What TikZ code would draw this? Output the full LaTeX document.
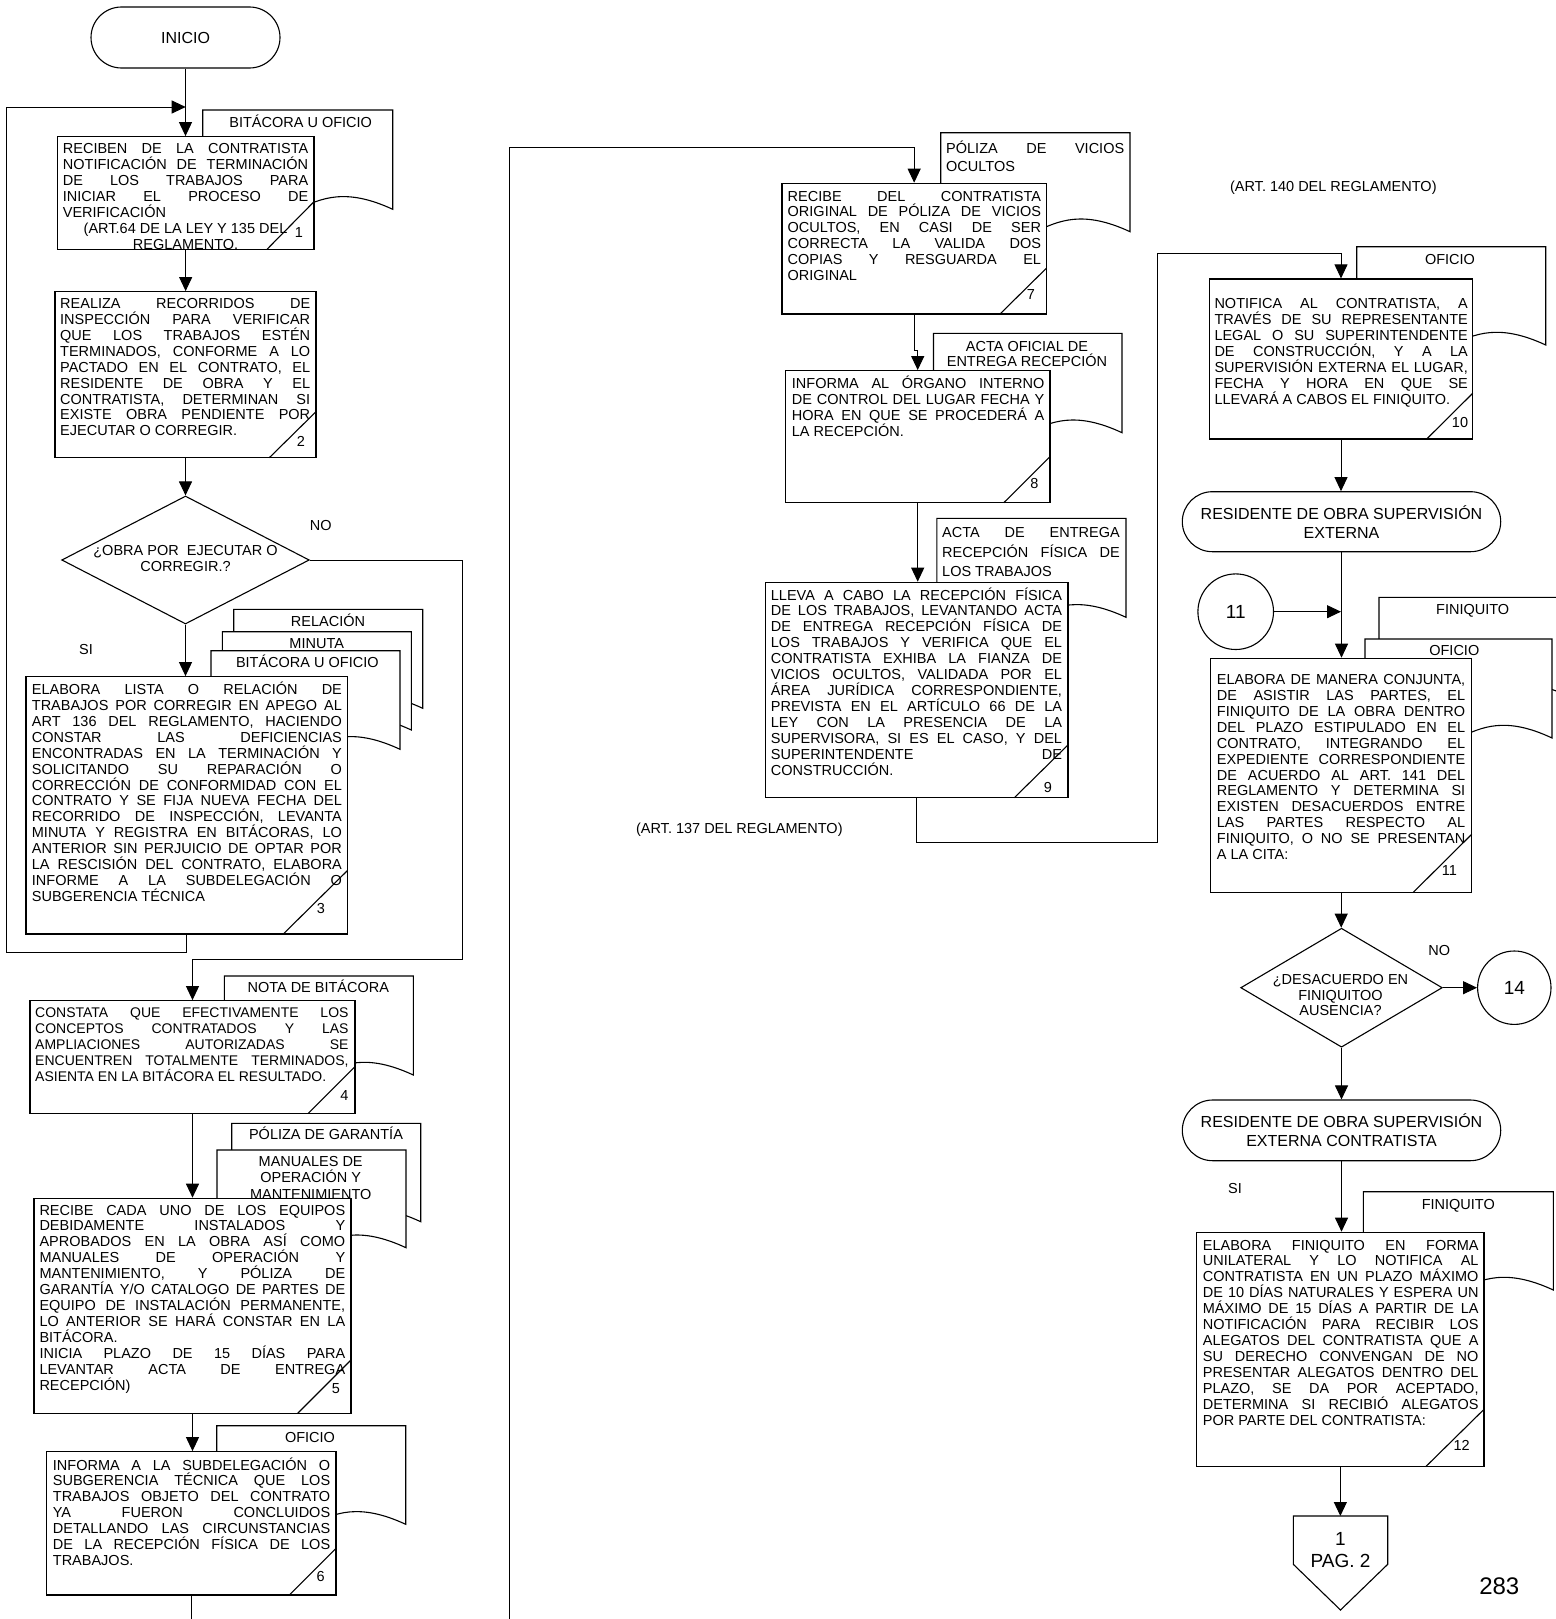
\documentclass[tikz,border=0pt]{standalone}
\usepackage{fontspec}
\setmainfont{Liberation Sans}
\usetikzlibrary{arrows.meta,shapes.geometric,shapes.misc}
\newcommand\fntB{\fontsize{14.5}{15.95}\selectfont}
\newcommand\fntL{\fontsize{14.5}{16}\selectfont}
\newcommand\fntT{\fontsize{16}{19}\selectfont}
\newcommand\fntC{\fontsize{19}{21.7}\selectfont}
\newcommand\mydoc[4]{\draw[docst] (#1,#4) .. controls ({0.5*(#1+#3)},{#4+44}) and ({0.5*(#1+#3)},{#4-44}) .. (#3,#4) -- (#3,#2) -- (#1,#2) -- cycle;}
\newcommand\mytxt[4]{\node[anchor=base west,inner sep=0pt] at (#1,#2) {\parbox[t]{#3pt}{\fntB\tolerance=10000\hbadness=10000\hyphenpenalty=10000\relax #4}};}
\newcommand\mylbl[3]{\node[anchor=base,inner sep=0pt,font=\fntL] at (#1,#2) {#3};}
\newcommand\mynum[3]{\node[anchor=base,inner sep=0pt,font=\fntB] at (#1,#2) {#3};}
\newcommand\mydiag[4]{\draw[boxline] (#1,#2) -- (#3,#4);}
\tikzset{
  boxline/.style={line width=1.1pt},
  docst/.style={draw,line width=1.1pt,fill=white},
  boxst/.style={draw,line width=1.2pt,fill=white,rectangle,inner sep=0pt},
  termst/.style={draw,line width=1.1pt,fill=white,rounded rectangle,inner sep=0pt,align=center,font=\fntT},
  diast/.style={draw,line width=1.1pt,fill=white,diamond,inner sep=0pt},
  circst/.style={draw,line width=1.1pt,fill=white,circle,inner sep=0pt,font=\fntC},
  ln/.style={line width=1pt},
  arr/.style={line width=1pt,-{Triangle[length=14pt,width=13pt]}},
}
\begin{document}
\begin{tikzpicture}[x=1pt,y=-1pt]
\useasboundingbox (0,0) rectangle (1555,1619);
\fill[white] (0,0) rectangle (1555,1619);

% ---------- documents ----------
\mydoc{202.7}{110}{392.7}{209.3}
\mylbl{300.7}{127.5}{BITÁCORA U OFICIO}
\mydoc{233.7}{609.3}{422.7}{708.3}
\mylbl{328}{626.2}{RELACIÓN}
\mydoc{222.3}{631.7}{411.3}{730}
\mylbl{316.7}{648.5}{MINUTA}
\mydoc{211}{650.7}{400}{749.3}
\mylbl{307.3}{667.5}{BITÁCORA U OFICIO}
\mydoc{224.3}{976}{413.3}{1075}
\mylbl{318.3}{992.5}{NOTA DE BITÁCORA}
\mydoc{231.7}{1123.3}{420.7}{1221.7}
\mylbl{326}{1139.5}{PÓLIZA DE GARANTÍA}
\mydoc{217}{1150}{406}{1247.7}
\mylbl{310.7}{1166.9}{MANUALES DE}
\mylbl{310.7}{1182.9}{OPERACIÓN Y}
\mylbl{310.7}{1199.2}{MANTENIMIENTO}
\mydoc{216.7}{1425.7}{405.7}{1524.3}
\mylbl{310}{1442.5}{OFICIO}
\mydoc{940.7}{132.7}{1130}{231.7}
\node[anchor=base west,inner sep=0pt] at (946,153.5) {\parbox[t]{178pt}{\fntL\baselineskip=18.4pt\tolerance=10000\hbadness=10000 PÓLIZA DE VICIOS\linebreak OCULTOS}};
\mydoc{933.5}{333.3}{1122}{432.7}
\mylbl{1027}{351.9}{ACTA OFICIAL DE}
\mylbl{1027}{366.9}{ENTREGA RECEPCIÓN}
\mydoc{936.8}{518.3}{1126}{617.3}
\node[anchor=base west,inner sep=0pt] at (942,537.9) {\parbox[t]{177.6pt}{\fntL\baselineskip=19.2pt\tolerance=10000\hbadness=10000 ACTA DE ENTREGA\linebreak RECEPCIÓN FÍSICA DE\linebreak LOS TRABAJOS}};
\mydoc{1356.7}{246.7}{1545.7}{345}
\mylbl{1450}{264.5}{OFICIO}
\mydoc{1379}{597.3}{1568}{696}
\mylbl{1472.7}{614.5}{FINIQUITO}
\mydoc{1365}{639}{1552}{738}
\mylbl{1454.3}{655.9}{OFICIO}
\mydoc{1363.3}{1191.7}{1553.3}{1290}
\mylbl{1458.3}{1209.2}{FINIQUITO}

% ---------- terminals, decisions, circles ----------
\node[termst,minimum width=189pt,minimum height=61pt] (ini) at (185.5,37.5) {INICIO};
\node[termst,minimum width=318.4pt,minimum height=60pt] (t2) at (1341.5,521.7) {RESIDENTE DE OBRA SUPERVISIÓN\\EXTERNA};
\node[termst,minimum width=318.4pt,minimum height=60.7pt] (t3) at (1341.5,1130.35) {RESIDENTE DE OBRA SUPERVISIÓN\\EXTERNA CONTRATISTA};
\node[diast,minimum width=247.6pt,minimum height=128pt] (d1) at (185.5,560) {};
\node[align=center,font=\fntL,inner sep=0pt] at (185.5,558.5) {¿OBRA POR\ \ EJECUTAR O\\CORREGIR.?};
\node[diast,minimum width=201.6pt,minimum height=119pt] (d2) at (1341.5,987.7) {};
\node[align=center,font=\fntB,inner sep=0pt] at (1340.5,995) {¿DESACUERDO EN\\FINIQUITOO\\AUSENCIA?};
\node[circst,minimum size=75.6pt] (c11) at (1235.7,611.7) {11};
\node[circst,minimum size=73.4pt] (c14) at (1514.3,987.7) {14};

% ---------- process boxes ----------
\node[boxst,minimum width=256.7pt,minimum height=112.6pt] (n1) at (185.65,193) {};
\node[boxst,minimum width=261pt,minimum height=166pt] (n2) at (185.5,374.7) {};
\node[boxst,minimum width=321.3pt,minimum height=257.3pt] (n3) at (186.65,805.35) {};
\node[boxst,minimum width=325pt,minimum height=112.6pt] (n4) at (192.5,1057) {};
\node[boxst,minimum width=317pt,minimum height=215pt] (n5) at (192.5,1305.8) {};
\node[boxst,minimum width=289.3pt,minimum height=143.3pt] (n6) at (191.35,1523.35) {};
\node[boxst,minimum width=264.3pt,minimum height=130.7pt] (n7) at (914.15,248.65) {};
\node[boxst,minimum width=264.6pt,minimum height=132pt] (n8) at (917.7,436.7) {};
\node[boxst,minimum width=302.5pt,minimum height=215.4pt] (n9) at (916.65,690) {};
\node[boxst,minimum width=263.4pt,minimum height=160pt] (n10) at (1341,359) {};
\node[boxst,minimum width=261pt,minimum height=234pt] (n11) at (1341.2,775.3) {};
\node[boxst,minimum width=287.3pt,minimum height=234.4pt] (n12) at (1340.35,1349.5) {};

% off-page connector
\draw[boxline,fill=white] (1293.3,1516) -- (1387.7,1516) -- (1387.7,1564.3) -- (1340.5,1610) -- (1293.3,1564.3) -- cycle;
\coordinate (off) at (1340.5,1516);
\node[anchor=base,inner sep=0pt,font=\fntC] at (1340.5,1545.5) {1};
\node[anchor=base,inner sep=0pt,font=\fntC] at (1340.5,1567.2) {PAG. 2};

% ---------- diagonals and numbers ----------
\mydiag{267}{249.3}{314}{201.7}      \mynum{299}{237}{1}
\mydiag{269.3}{457.7}{316}{411.7}    \mynum{301}{446}{2}
\mydiag{283.3}{934}{347.3}{870.7}    \mynum{321}{913.3}{3}
\mydiag{308.3}{1113.3}{355}{1066.7}  \mynum{344.3}{1100.7}{4}
\mydiag{297.7}{1413.3}{351}{1360}    \mynum{336}{1393.3}{5}
\mydiag{289.3}{1595}{336}{1548.3}    \mynum{320.7}{1581}{6}
\mydiag{1000}{314}{1046.3}{268.3}    \mynum{1031}{299}{7}
\mydiag{1003.8}{502.7}{1050}{456.7}  \mynum{1034.5}{488.3}{8}
\mydiag{1014.3}{797.7}{1067.9}{745}  \mynum{1048}{792.3}{9}
\mydiag{1426.7}{439}{1472.7}{393.3}  \mynum{1460}{427.3}{10}
\mydiag{1413.3}{892.3}{1471.7}{834.3} \mynum{1449.3}{875}{11}
\mydiag{1425.7}{1466.7}{1484}{1409.3} \mynum{1461.7}{1450}{12}

% ---------- box texts ----------
\mytxt{62.7}{153.3}{245.3}{RECIBEN DE LA CONTRATISTA\linebreak NOTIFICACIÓN DE TERMINACIÓN\linebreak DE LOS TRABAJOS PARA\linebreak INICIAR EL PROCESO DE\linebreak VERIFICACIÓN\par{\centering (ART.64 DE LA LEY Y 135 DEL\\REGLAMENTO.\par}}
\mytxt{60}{308.3}{250}{REALIZA RECORRIDOS DE\linebreak INSPECCIÓN PARA VERIFICAR\linebreak QUE LOS TRABAJOS ESTÉN\linebreak TERMINADOS, CONFORME A LO\linebreak PACTADO EN EL CONTRATO, EL\linebreak RESIDENTE DE OBRA Y EL\linebreak CONTRATISTA, DETERMINAN SI\linebreak EXISTE OBRA PENDIENTE POR\linebreak EJECUTAR O CORREGIR.}
\mytxt{31.7}{694.3}{310}{ELABORA LISTA O RELACIÓN DE\linebreak TRABAJOS POR CORREGIR EN APEGO AL\linebreak ART 136 DEL REGLAMENTO, HACIENDO\linebreak CONSTAR LAS DEFICIENCIAS\linebreak ENCONTRADAS EN LA TERMINACIÓN Y\linebreak SOLICITANDO SU REPARACIÓN O\linebreak CORRECCIÓN DE CONFORMIDAD CON EL\linebreak CONTRATO Y SE FIJA NUEVA FECHA DEL\linebreak RECORRIDO DE INSPECCIÓN, LEVANTA\linebreak MINUTA Y REGISTRA EN BITÁCORAS, LO\linebreak ANTERIOR SIN PERJUICIO DE OPTAR POR\linebreak LA RESCISIÓN DEL CONTRATO, ELABORA\linebreak INFORME A LA SUBDELEGACIÓN O\linebreak SUBGERENCIA TÉCNICA}
\mytxt{35}{1017.7}{313.3}{\fontsize{14}{15.95}\selectfont CONSTATA QUE EFECTIVAMENTE LOS\linebreak CONCEPTOS CONTRATADOS Y LAS\linebreak AMPLIACIONES AUTORIZADAS SE\linebreak ENCUENTREN TOTALMENTE TERMINADOS,\linebreak ASIENTA EN LA BITÁCORA EL RESULTADO.}
\mytxt{39.3}{1215}{305.7}{RECIBE CADA UNO DE LOS EQUIPOS\linebreak DEBIDAMENTE INSTALADOS Y\linebreak APROBADOS EN LA OBRA ASÍ COMO\linebreak MANUALES DE OPERACIÓN Y\linebreak MANTENIMIENTO, Y PÓLIZA DE\linebreak GARANTÍA Y/O CATALOGO DE PARTES DE\linebreak EQUIPO DE INSTALACIÓN PERMANENTE,\linebreak LO ANTERIOR SE HARÁ CONSTAR EN LA\linebreak BITÁCORA.\par INICIA PLAZO DE 15 DÍAS PARA\linebreak LEVANTAR ACTA DE ENTREGA\linebreak RECEPCIÓN)}
\mytxt{52.7}{1470}{277.3}{INFORMA A LA SUBDELEGACIÓN O\linebreak SUBGERENCIA TÉCNICA QUE LOS\linebreak TRABAJOS OBJETO DEL CONTRATO\linebreak YA FUERON CONCLUIDOS\linebreak DETALLANDO LAS CIRCUNSTANCIAS\linebreak DE LA RECEPCIÓN FÍSICA DE LOS\linebreak TRABAJOS.}
\mytxt{787.5}{201}{253.3}{RECIBE DEL CONTRATISTA\linebreak ORIGINAL DE PÓLIZA DE VICIOS\linebreak OCULTOS, EN CASI DE SER\linebreak CORRECTA LA VALIDA DOS\linebreak COPIAS Y RESGUARDA EL\linebreak ORIGINAL}
\mytxt{791.7}{388.3}{252.5}{INFORMA AL ÓRGANO INTERNO\linebreak DE CONTROL DEL LUGAR FECHA Y\linebreak HORA EN QUE SE PROCEDERÁ A\linebreak LA RECEPCIÓN.}
\mytxt{770.7}{600}{291.1}{LLEVA A CABO LA RECEPCIÓN FÍSICA\linebreak DE LOS TRABAJOS, LEVANTANDO ACTA\linebreak DE ENTREGA RECEPCIÓN FÍSICA DE\linebreak LOS TRABAJOS Y VERIFICA QUE EL\linebreak CONTRATISTA EXHIBA LA FIANZA DE\linebreak VICIOS OCULTOS, VALIDADA POR EL\linebreak ÁREA JURÍDICA CORRESPONDIENTE,\linebreak PREVISTA EN EL ARTÍCULO 66 DE LA\linebreak LEY CON LA PRESENCIA DE LA\linebreak SUPERVISORA, SI ES EL CASO, Y DEL\linebreak SUPERINTENDENTE DE\linebreak CONSTRUCCIÓN.}
\mytxt{1214.3}{308.3}{253.4}{NOTIFICA AL CONTRATISTA, A\linebreak TRAVÉS DE SU REPRESENTANTE\linebreak LEGAL O SU SUPERINTENDENTE\linebreak DE CONSTRUCCIÓN, Y A LA\linebreak SUPERVISIÓN EXTERNA EL LUGAR,\linebreak FECHA Y HORA EN QUE SE\linebreak LLEVARÁ A CABOS EL FINIQUITO.}
\mytxt{1216.7}{684.3}{248.3}{ELABORA DE MANERA CONJUNTA,\linebreak DE ASISTIR LAS PARTES, EL\linebreak FINIQUITO DE LA OBRA DENTRO\linebreak DEL PLAZO ESTIPULADO EN EL\linebreak CONTRATO, INTEGRANDO EL\linebreak EXPEDIENTE CORRESPONDIENTE\linebreak DE ACUERDO AL ART. 141 DEL\linebreak REGLAMENTO Y DETERMINA SI\linebreak EXISTEN DESACUERDOS ENTRE\linebreak LAS PARTES RESPECTO AL\linebreak FINIQUITO, O NO SE PRESENTAN\linebreak A LA CITA:}
\mytxt{1202.7}{1250}{275.6}{ELABORA FINIQUITO EN FORMA\linebreak UNILATERAL Y LO NOTIFICA AL\linebreak CONTRATISTA EN UN PLAZO MÁXIMO\linebreak DE 10 DÍAS NATURALES Y ESPERA UN\linebreak MÁXIMO DE 15 DÍAS A PARTIR DE LA\linebreak NOTIFICACIÓN PARA RECIBIR LOS\linebreak ALEGATOS DEL CONTRATISTA QUE A\linebreak SU DERECHO CONVENGAN DE NO\linebreak PRESENTAR ALEGATOS DENTRO DEL\linebreak PLAZO, SE DA POR ACEPTADO,\linebreak DETERMINA SI RECIBIÓ ALEGATOS\linebreak POR PARTE DEL CONTRATISTA:}

% ---------- free labels ----------
\mylbl{320.7}{530.2}{NO}
\mylbl{86}{654.2}{SI}
\mylbl{1439.3}{955.9}{NO}
\mylbl{1235}{1193.5}{SI}
\mylbl{739.3}{833.5}{(ART. 137 DEL REGLAMENTO)}
\mylbl{1333.3}{191.9}{(ART. 140 DEL REGLAMENTO)}
\node[anchor=base,inner sep=0pt,font=\fontsize{24}{28}\selectfont] at (1499.3,1594.6) {283};

% ---------- connectors ----------
\coordinate (j1) at (185.7,107);
\coordinate (j2) at (1341,611.7);
\coordinate (e1) at (191.35,1619);
\coordinate (s2) at (509.3,1619);
\draw[arr] (ini.south) -- (ini.south |- n1.north);
\draw[arr] (n3.south) -- (n3.south |- 0,952.3) -- (6,952.3) -- (6,107) -- (j1);
\draw[arr] (n1.south) -- (n1.south |- n2.north);
\draw[arr] (n2.south) -- (n2.south |- d1.north);
\draw[arr] (d1.south) -- (d1.south |- n3.north);
\draw[arr] (d1.east) -- (462.7,560) -- (462.7,959) -| (n4.north);
\draw[arr] (n4.south) -- (n4.south |- n5.north);
\draw[arr] (n5.south) -- (n5.south |- n6.north);
\draw[ln] (n6.south) -- (e1);
\draw[arr] (s2) -- (509.3,147.3) -| (n7.north);
\draw[arr] (n7.south) -- ++(0,36) -| (n8.north);
\draw[arr] (n8.south) -- (n8.south |- n9.north);
\draw[arr] (n9.south) |- (1157.4,842.7) -- (1157.4,253.3) -| (n10.north);
\draw[arr] (n10.south) -- (n10.south |- t2.north);
\draw[arr] (t2.south) -- (t2.south |- n11.north);
\draw[arr] (c11.east) -- (j2);
\draw[arr] (n11.south) -- (n11.south |- d2.north);
\draw[arr] (d2.east) -- (c14.west);
\draw[arr] (d2.south) -- (d2.south |- t3.north);
\draw[arr] (t3.south) -- (t3.south |- n12.north);
\draw[arr] (n12.south) -- (n12.south |- off);
\end{tikzpicture}
\end{document}
